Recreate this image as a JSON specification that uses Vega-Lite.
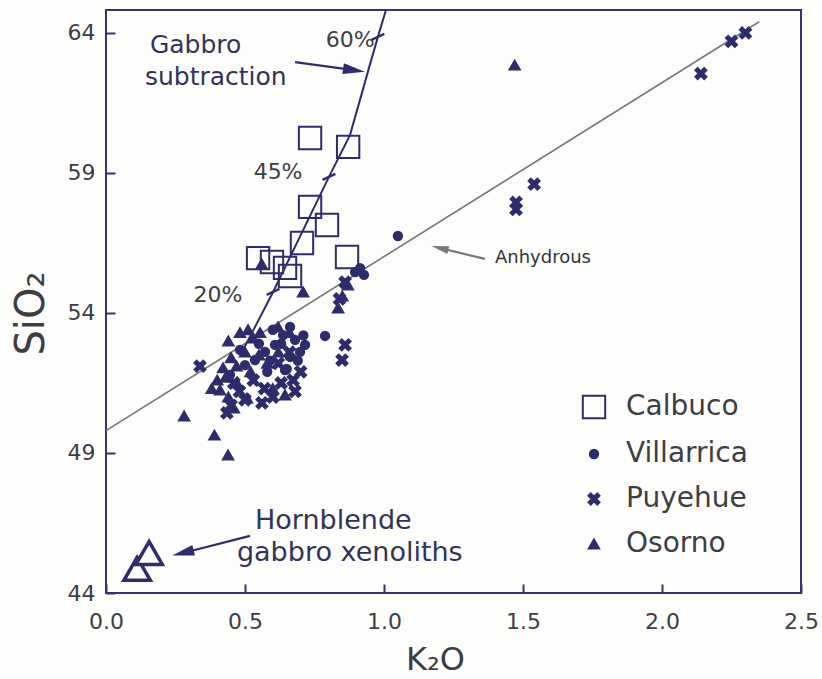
{
  "$schema": "https://vega.github.io/schema/vega-lite/v6.json",
  "width": 695,
  "height": 583,
  "autosize": "none",
  "padding": {"left": 106, "top": 10, "right": 21, "bottom": 86},
  "background": "#fdfdfb",
  "config": {
    "view": {"stroke": "#34346e", "strokeWidth": 2},
    "font": "DejaVu Sans",
    "axis": {
      "domain": false,
      "grid": false,
      "tickColor": "#34346e",
      "tickWidth": 2,
      "tickSize": 9,
      "offset": -9,
      "labelFont": "DejaVu Sans",
      "labelFontSize": 22,
      "labelColor": "#3d3d45",
      "titleFont": "DejaVu Sans",
      "titleFontSize": 32,
      "titleFontWeight": "normal",
      "titleColor": "#3d3d45"
    }
  },
  "datasets": {
    "anhydrous": [
      {"k": 0.0, "si": 49.8},
      {"k": 2.35, "si": 64.4}
    ],
    "gabbro": [
      {"k": 0.493, "si": 52.68},
      {"k": 0.601, "si": 54.75},
      {"k": 0.802, "si": 58.86},
      {"k": 0.878, "si": 60.36},
      {"k": 0.942, "si": 62.61},
      {"k": 0.978, "si": 63.86},
      {"k": 1.007, "si": 64.82}
    ],
    "gabbroSteps": [
      {"pct": "20%", "k": 0.601, "si": 54.75},
      {"pct": "45%", "k": 0.802, "si": 58.86},
      {"pct": "60%", "k": 0.978, "si": 63.86}
    ],
    "arrowGabbro": [
      {"k": 0.68, "si": 62.96},
      {"k": 0.892, "si": 62.67}
    ],
    "arrowAnhydrous": [
      {"k": 1.363, "si": 55.93},
      {"k": 1.201, "si": 56.32}
    ],
    "arrowXenolith": [
      {"k": 0.518, "si": 46.04},
      {"k": 0.277, "si": 45.43}
    ],
    "xenoliths": [
      {"k": 0.112, "si": 44.86},
      {"k": 0.155, "si": 45.43}
    ],
    "samples": [
      {"v": "Calbuco", "k": 0.734, "si": 60.25},
      {"v": "Calbuco", "k": 0.871, "si": 59.93},
      {"v": "Calbuco", "k": 0.734, "si": 57.79},
      {"v": "Calbuco", "k": 0.795, "si": 57.14},
      {"v": "Calbuco", "k": 0.705, "si": 56.5},
      {"v": "Calbuco", "k": 0.547, "si": 55.96},
      {"v": "Calbuco", "k": 0.597, "si": 55.82},
      {"v": "Calbuco", "k": 0.644, "si": 55.61},
      {"v": "Calbuco", "k": 0.662, "si": 55.32},
      {"v": "Calbuco", "k": 0.867, "si": 56.0},

      {"v": "Villarrica", "k": 1.05, "si": 56.75},
      {"v": "Villarrica", "k": 0.788, "si": 53.18},
      {"v": "Villarrica", "k": 0.914, "si": 55.6},
      {"v": "Villarrica", "k": 0.928, "si": 55.36},
      {"v": "Villarrica", "k": 0.896, "si": 55.46},
      {"v": "Villarrica", "k": 0.637, "si": 53.21},
      {"v": "Villarrica", "k": 0.68, "si": 53.04},
      {"v": "Villarrica", "k": 0.698, "si": 52.61},
      {"v": "Villarrica", "k": 0.662, "si": 52.43},
      {"v": "Villarrica", "k": 0.608, "si": 52.86},
      {"v": "Villarrica", "k": 0.572, "si": 52.61},
      {"v": "Villarrica", "k": 0.536, "si": 52.32},
      {"v": "Villarrica", "k": 0.716, "si": 52.86},
      {"v": "Villarrica", "k": 0.644, "si": 51.96},
      {"v": "Villarrica", "k": 0.482, "si": 52.68},
      {"v": "Villarrica", "k": 0.446, "si": 51.79},
      {"v": "Villarrica", "k": 0.5, "si": 52.14},
      {"v": "Villarrica", "k": 0.662, "si": 53.5},
      {"v": "Villarrica", "k": 0.59, "si": 52.3},
      {"v": "Villarrica", "k": 0.63, "si": 52.9},
      {"v": "Villarrica", "k": 0.69, "si": 52.3},
      {"v": "Villarrica", "k": 0.71, "si": 53.2},
      {"v": "Villarrica", "k": 0.55, "si": 52.9},
      {"v": "Villarrica", "k": 0.6, "si": 53.4},
      {"v": "Villarrica", "k": 0.65, "si": 52.0},
      {"v": "Villarrica", "k": 0.58, "si": 51.9},

      {"v": "Puyehue", "k": 2.3, "si": 64.0},
      {"v": "Puyehue", "k": 2.25, "si": 63.7},
      {"v": "Puyehue", "k": 2.14, "si": 62.55},
      {"v": "Puyehue", "k": 1.54, "si": 58.6},
      {"v": "Puyehue", "k": 1.475, "si": 57.95},
      {"v": "Puyehue", "k": 1.475, "si": 57.7},
      {"v": "Puyehue", "k": 0.338, "si": 52.1},
      {"v": "Puyehue", "k": 0.86, "si": 52.86},
      {"v": "Puyehue", "k": 0.849, "si": 52.32},
      {"v": "Puyehue", "k": 0.86, "si": 55.1},
      {"v": "Puyehue", "k": 0.84, "si": 54.5},
      {"v": "Puyehue", "k": 0.673, "si": 51.6},
      {"v": "Puyehue", "k": 0.561, "si": 50.79},
      {"v": "Puyehue", "k": 0.435, "si": 50.43},
      {"v": "Puyehue", "k": 0.45, "si": 50.7},
      {"v": "Puyehue", "k": 0.6, "si": 51.0},
      {"v": "Puyehue", "k": 0.48, "si": 51.2},
      {"v": "Puyehue", "k": 0.62, "si": 52.2},
      {"v": "Puyehue", "k": 0.7, "si": 51.9},
      {"v": "Puyehue", "k": 0.5, "si": 50.9},
      {"v": "Puyehue", "k": 0.57, "si": 51.3},
      {"v": "Puyehue", "k": 0.66, "si": 52.6},
      {"v": "Puyehue", "k": 0.46, "si": 51.5},
      {"v": "Puyehue", "k": 0.53, "si": 51.6},
      {"v": "Puyehue", "k": 0.63, "si": 51.5},
      {"v": "Puyehue", "k": 0.68, "si": 51.2},

      {"v": "Osorno", "k": 1.47, "si": 62.85},
      {"v": "Osorno", "k": 0.281, "si": 50.32},
      {"v": "Osorno", "k": 0.39, "si": 49.64},
      {"v": "Osorno", "k": 0.439, "si": 48.93},
      {"v": "Osorno", "k": 0.709, "si": 54.75},
      {"v": "Osorno", "k": 0.56, "si": 55.75},
      {"v": "Osorno", "k": 0.835, "si": 54.18},
      {"v": "Osorno", "k": 0.85, "si": 54.6},
      {"v": "Osorno", "k": 0.87, "si": 55.0},
      {"v": "Osorno", "k": 0.482, "si": 53.3},
      {"v": "Osorno", "k": 0.511, "si": 53.4},
      {"v": "Osorno", "k": 0.554, "si": 53.3},
      {"v": "Osorno", "k": 0.619, "si": 53.5},
      {"v": "Osorno", "k": 0.421, "si": 52.04},
      {"v": "Osorno", "k": 0.41, "si": 51.25},
      {"v": "Osorno", "k": 0.471, "si": 51.5},
      {"v": "Osorno", "k": 0.507, "si": 50.96},
      {"v": "Osorno", "k": 0.644, "si": 51.07},
      {"v": "Osorno", "k": 0.43, "si": 51.7},
      {"v": "Osorno", "k": 0.55, "si": 52.5},
      {"v": "Osorno", "k": 0.6, "si": 51.3},
      {"v": "Osorno", "k": 0.45, "si": 52.4},
      {"v": "Osorno", "k": 0.4, "si": 51.6},
      {"v": "Osorno", "k": 0.52, "si": 51.9},
      {"v": "Osorno", "k": 0.44, "si": 51.0},
      {"v": "Osorno", "k": 0.47, "si": 52.1},
      {"v": "Osorno", "k": 0.5, "si": 52.6},
      {"v": "Osorno", "k": 0.58, "si": 52.2},
      {"v": "Osorno", "k": 0.62, "si": 52.6},
      {"v": "Osorno", "k": 0.44, "si": 53.0},
      {"v": "Osorno", "k": 0.53, "si": 53.1},
      {"v": "Osorno", "k": 0.66, "si": 53.3},
      {"v": "Osorno", "k": 0.38, "si": 51.3},
      {"v": "Osorno", "k": 0.46, "si": 50.6}
    ],
    "pctLabels": [
      {"text": "60%", "k": 0.878, "si": 63.75},
      {"text": "45%", "k": 0.619, "si": 59.04},
      {"text": "20%", "k": 0.403, "si": 54.64}
    ],
    "notes": [
      {"text": "Gabbro", "k": 0.158, "si": 63.57},
      {"text": "subtraction", "k": 0.14, "si": 62.43}
    ],
    "xenolithNote": [
      {"text": "Hornblende", "k": 0.536, "si": 46.57},
      {"text": "gabbro  xenoliths", "k": 0.471, "si": 45.43}
    ],
    "anhLabel": [
      {"text": "Anhydrous", "k": 1.399, "si": 55.96}
    ]
  },
  "layer": [
    {
      "data": {"name": "anhydrous"},
      "mark": {"type": "line", "color": "#77777c", "strokeWidth": 1.6},
      "encoding": {
        "x": {
          "field": "k", "type": "quantitative",
          "scale": {"domain": [0, 2.5], "nice": false, "zero": false},
          "axis": {
            "title": "K₂O",
            "values": [0, 0.5, 1, 1.5, 2, 2.5],
            "format": ".1f",
            "labelPadding": 18,
            "labelFlush": false,
            "titlePadding": 12,
            "titleX": 329
          }
        },
        "y": {
          "field": "si", "type": "quantitative",
          "scale": {"domain": [44, 64.82], "nice": false, "zero": false},
          "axis": {
            "title": "SiO₂",
            "titleFontSize": 40,
            "titleY": 303,
            "values": [44, 49, 54, 59, 64],
            "labelPadding": 11,
            "titlePadding": 16
          }
        }
      }
    },
    {
      "data": {"name": "gabbro"},
      "mark": {"type": "line", "color": "#2e2d6b", "strokeWidth": 2},
      "encoding": {
        "x": {"field": "k", "type": "quantitative"},
        "y": {"field": "si", "type": "quantitative"}
      }
    },
    {
      "data": {"name": "gabbroSteps"},
      "mark": {"type": "point", "shape": "stroke", "angle": -25, "size": 200, "stroke": "#2e2d6b", "strokeWidth": 2.5, "opacity": 1},
      "encoding": {
        "x": {"field": "k", "type": "quantitative"},
        "y": {"field": "si", "type": "quantitative"}
      }
    },
    {
      "data": {"name": "arrowGabbro"},
      "mark": {"type": "line", "color": "#2e2d6b", "strokeWidth": 2.2},
      "encoding": {
        "x": {"field": "k", "type": "quantitative"},
        "y": {"field": "si", "type": "quantitative"}
      }
    },
    {
      "data": {"name": "arrowGabbro"},
      "transform": [{"filter": "datum.k > 0.8"}],
      "mark": {"type": "point", "shape": "M1,0L-1,-0.5L-1,0.5Z", "angle": 8, "size": 480, "filled": true, "fill": "#2e2d6b", "strokeWidth": 0, "opacity": 1},
      "encoding": {
        "x": {"field": "k", "type": "quantitative"},
        "y": {"field": "si", "type": "quantitative"}
      }
    },
    {
      "data": {"name": "arrowAnhydrous"},
      "mark": {"type": "line", "color": "#77777c", "strokeWidth": 2.2},
      "encoding": {
        "x": {"field": "k", "type": "quantitative"},
        "y": {"field": "si", "type": "quantitative"}
      }
    },
    {
      "data": {"name": "arrowAnhydrous"},
      "transform": [{"filter": "datum.k < 1.3"}],
      "mark": {"type": "point", "shape": "M1,0L-1,-0.45L-1,0.45Z", "angle": -166, "size": 300, "filled": true, "fill": "#77777c", "strokeWidth": 0, "opacity": 1},
      "encoding": {
        "x": {"field": "k", "type": "quantitative"},
        "y": {"field": "si", "type": "quantitative"}
      }
    },
    {
      "data": {"name": "arrowXenolith"},
      "mark": {"type": "line", "color": "#2e2d6b", "strokeWidth": 2.2},
      "encoding": {
        "x": {"field": "k", "type": "quantitative"},
        "y": {"field": "si", "type": "quantitative"}
      }
    },
    {
      "data": {"name": "arrowXenolith"},
      "transform": [{"filter": "datum.k < 0.4"}],
      "mark": {"type": "point", "shape": "M1,0L-1,-0.5L-1,0.5Z", "angle": 166, "size": 480, "filled": true, "fill": "#2e2d6b", "strokeWidth": 0, "opacity": 1},
      "encoding": {
        "x": {"field": "k", "type": "quantitative"},
        "y": {"field": "si", "type": "quantitative"}
      }
    },
    {
      "data": {"name": "xenoliths"},
      "mark": {"type": "point", "shape": "triangle-up", "size": 700, "filled": true, "fill": "#fdfdfb", "stroke": "#2e2d6b", "strokeWidth": 3.5, "opacity": 1},
      "encoding": {
        "x": {"field": "k", "type": "quantitative"},
        "y": {"field": "si", "type": "quantitative"}
      }
    },
    {
      "data": {"name": "samples"},
      "mark": {"type": "point", "filled": true, "stroke": "#2e2d6b", "strokeWidth": 2, "opacity": 1},
      "encoding": {
        "x": {"field": "k", "type": "quantitative"},
        "y": {"field": "si", "type": "quantitative"},
        "shape": {
          "field": "v", "type": "nominal",
          "scale": {
            "domain": ["Calbuco", "Villarrica", "Puyehue", "Osorno"],
            "range": ["square", "circle", "M-1,-0.6L-0.6,-1L0,-0.4L0.6,-1L1,-0.6L0.4,0L1,0.6L0.6,1L0,0.4L-0.6,1L-1,0.6L-0.4,0Z", "triangle-up"]
          },
          "legend": {"orient": "none", "legendX": 474, "legendY": 383, "title": null, "labelFontSize": 28, "labelFont": "DejaVu Sans", "labelColor": "#3d3d45", "rowPadding": 17, "labelOffset": 18, "padding": 0, "symbolStrokeWidth": 2}
        },
        "fill": {
          "field": "v", "type": "nominal",
          "scale": {
            "domain": ["Calbuco", "Villarrica", "Puyehue", "Osorno"],
            "range": ["transparent", "#2e2d6b", "#2e2d6b", "#2e2d6b"]
          },
          "legend": {"orient": "none", "legendX": 474, "legendY": 383, "title": null, "labelFontSize": 28, "labelFont": "DejaVu Sans", "labelColor": "#3d3d45", "rowPadding": 17, "labelOffset": 18, "padding": 0, "symbolStrokeWidth": 2}
        },
        "size": {
          "field": "v", "type": "nominal",
          "scale": {
            "type": "ordinal",
            "domain": ["Calbuco", "Villarrica", "Puyehue", "Osorno"],
            "range": [500, 70, 120, 105]
          },
          "legend": {"orient": "none", "legendX": 474, "legendY": 383, "title": null, "labelFontSize": 28, "labelFont": "DejaVu Sans", "labelColor": "#3d3d45", "rowPadding": 17, "labelOffset": 18, "padding": 0, "symbolStrokeWidth": 2}
        }
      }
    },
    {
      "data": {"name": "pctLabels"},
      "mark": {"type": "text", "fontSize": 22, "font": "DejaVu Sans", "color": "#3d3d45", "align": "center", "baseline": "middle"},
      "encoding": {
        "x": {"field": "k", "type": "quantitative"},
        "y": {"field": "si", "type": "quantitative"},
        "text": {"field": "text"}
      }
    },
    {
      "data": {"name": "notes"},
      "mark": {"type": "text", "fontSize": 25, "font": "DejaVu Sans", "color": "#33335a", "align": "left", "baseline": "middle"},
      "encoding": {
        "x": {"field": "k", "type": "quantitative"},
        "y": {"field": "si", "type": "quantitative"},
        "text": {"field": "text"}
      }
    },
    {
      "data": {"name": "xenolithNote"},
      "mark": {"type": "text", "fontSize": 27, "font": "DejaVu Sans", "color": "#33335a", "align": "left", "baseline": "middle"},
      "encoding": {
        "x": {"field": "k", "type": "quantitative"},
        "y": {"field": "si", "type": "quantitative"},
        "text": {"field": "text"}
      }
    },
    {
      "data": {"name": "anhLabel"},
      "mark": {"type": "text", "fontSize": 18, "font": "DejaVu Sans", "color": "#33333a", "align": "left", "baseline": "middle"},
      "encoding": {
        "x": {"field": "k", "type": "quantitative"},
        "y": {"field": "si", "type": "quantitative"},
        "text": {"field": "text"}
      }
    }
  ]
}
